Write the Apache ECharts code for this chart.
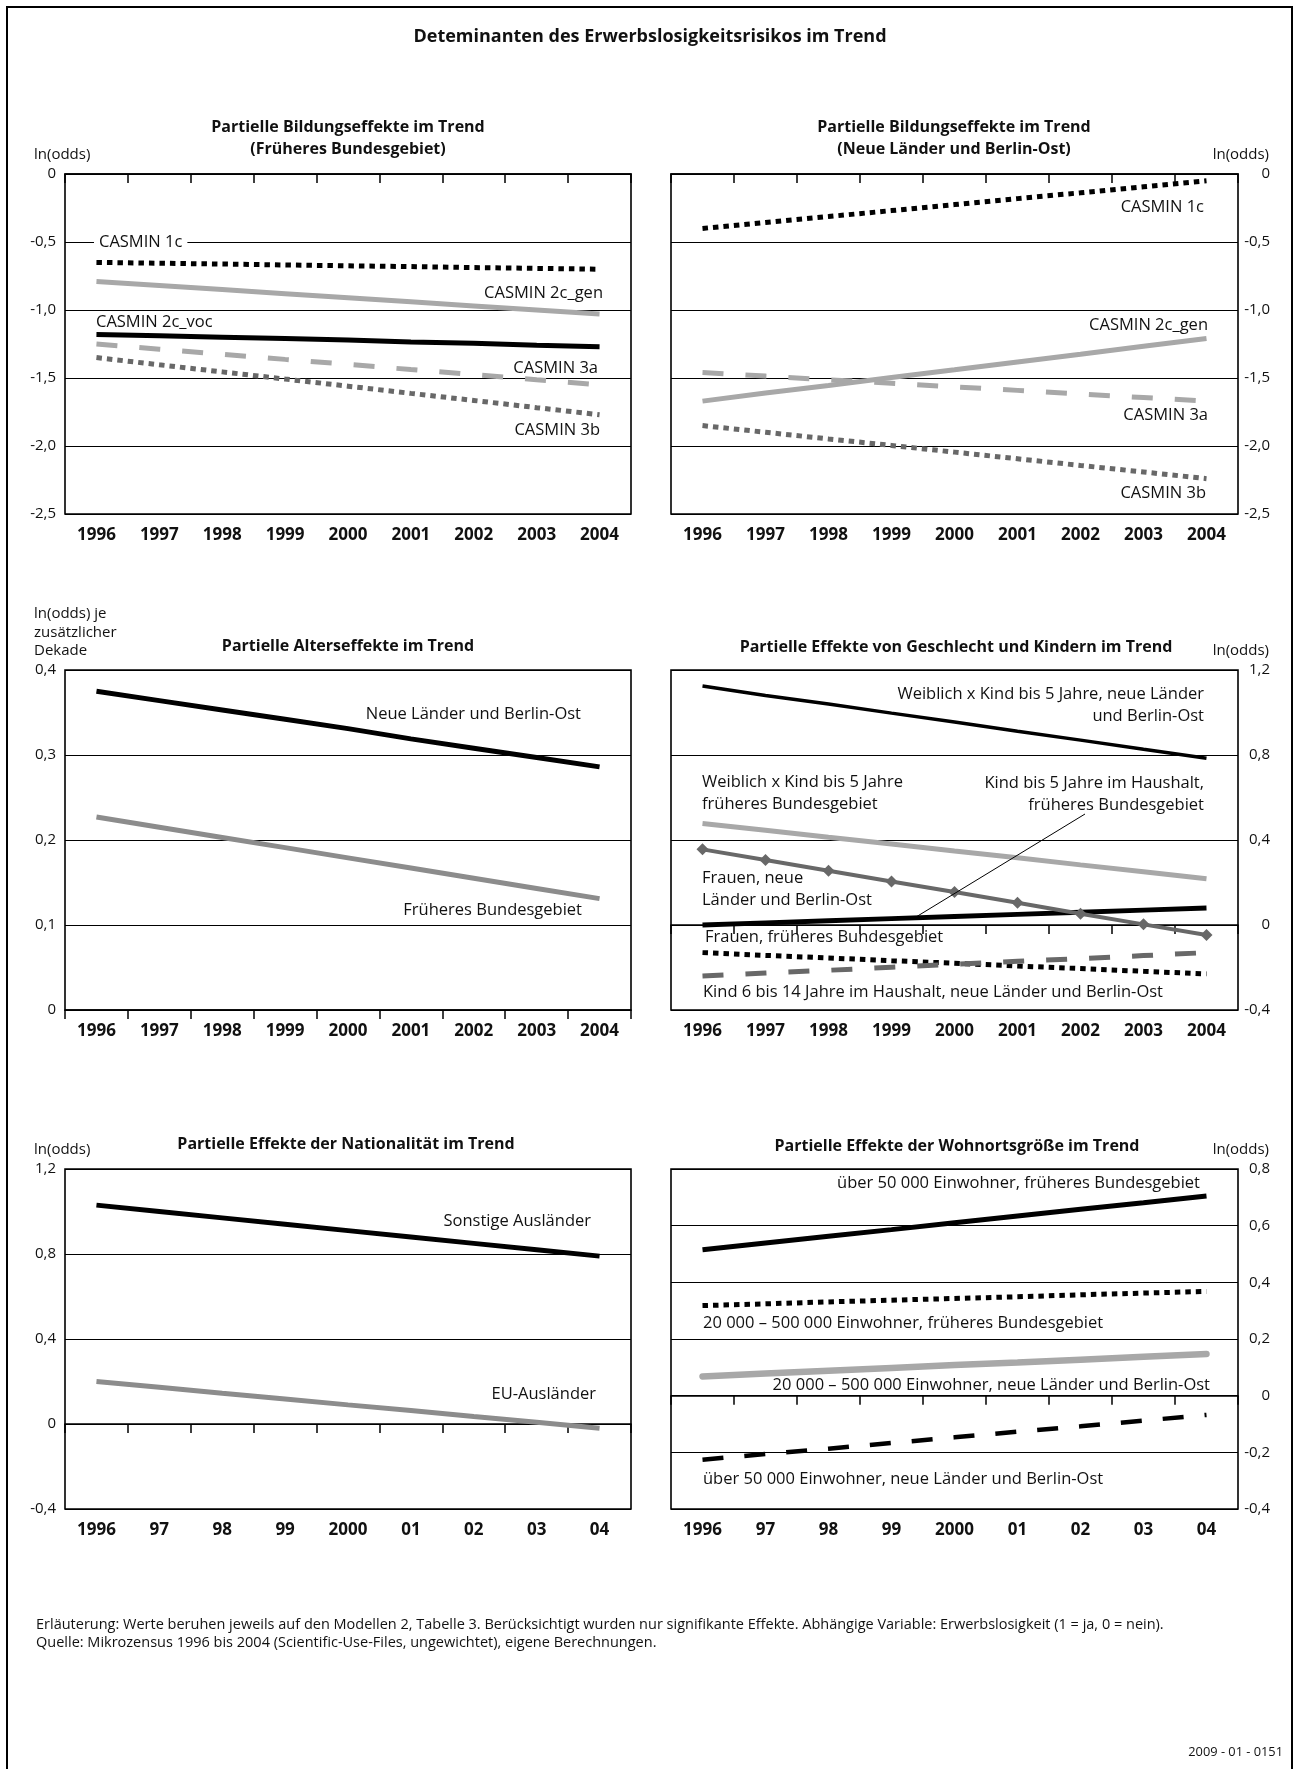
<!DOCTYPE html>
<html>
<head>
<meta charset="utf-8">
<script src="https://cdn.jsdelivr.net/npm/echarts@6/dist/echarts.min.js"></script>
<style>
  html, body { margin: 0; padding: 0; background: #fff; }
  #chart { width: 1297px; height: 1769px; }
</style>
</head>
<body>
<div id="chart"></div>
<script>
// categories
var yearsLong = ['1996', '1997', '1998', '1999', '2000', '2001', '2002', '2003', '2004']
var yearsShort = ['1996', '97', '98', '99', '2000', '01', '02', '03', '04']

// Bildungseffekte, früheres Bundesgebiet
var casmin1cWest = [-0.65, -0.656, -0.662, -0.669, -0.675, -0.681, -0.688, -0.694, -0.70]
var casmin2cGenWest = [-0.79, -0.82, -0.85, -0.88, -0.91, -0.94, -0.97, -1.00, -1.03]
var casmin2cVocWest = [-1.18, -1.19, -1.20, -1.21, -1.22, -1.235, -1.245, -1.26, -1.27]
var casmin3aWest = [-1.25, -1.288, -1.325, -1.363, -1.40, -1.438, -1.475, -1.513, -1.55]
var casmin3bWest = [-1.35, -1.403, -1.455, -1.508, -1.56, -1.613, -1.665, -1.718, -1.77]

// Bildungseffekte, neue Länder und Berlin-Ost
var casmin1cEast = [-0.40, -0.356, -0.313, -0.269, -0.225, -0.181, -0.138, -0.094, -0.05]
var casmin2cGenEast = [-1.67, -1.61, -1.555, -1.497, -1.44, -1.382, -1.325, -1.267, -1.21]
var casmin3aEast = [-1.46, -1.486, -1.513, -1.539, -1.565, -1.591, -1.618, -1.644, -1.67]
var casmin3bEast = [-1.85, -1.899, -1.948, -1.996, -2.045, -2.094, -2.143, -2.191, -2.24]

// Alterseffekte
var ageEast = [0.375, 0.364, 0.353, 0.342, 0.331, 0.319, 0.308, 0.297, 0.286]
var ageWest = [0.227, 0.215, 0.203, 0.191, 0.179, 0.167, 0.155, 0.143, 0.131]

// Geschlecht und Kinder
var femKidEast = [1.125, 1.08, 1.04, 0.997, 0.955, 0.912, 0.87, 0.827, 0.785]
var femKidWest = [0.478, 0.446, 0.413, 0.381, 0.348, 0.316, 0.283, 0.251, 0.218]
var womenEast = [0.356, 0.306, 0.255, 0.205, 0.155, 0.105, 0.053, 0.003, -0.047]
var kidWest = [0.0, 0.01, 0.02, 0.03, 0.04, 0.05, 0.06, 0.07, 0.08]
var womenWest = [-0.13, -0.143, -0.155, -0.168, -0.18, -0.193, -0.205, -0.218, -0.23]
var kid614East = [-0.24, -0.226, -0.213, -0.199, -0.185, -0.171, -0.158, -0.144, -0.13]

// Nationalität
var otherForeign = [1.03, 1.00, 0.97, 0.94, 0.91, 0.88, 0.85, 0.82, 0.79]
var euForeign = [0.20, 0.173, 0.145, 0.118, 0.09, 0.063, 0.035, 0.008, -0.02]

// Wohnortsgröße
var bigTownWest = [0.515, 0.539, 0.563, 0.586, 0.61, 0.634, 0.658, 0.681, 0.705]
var midTownWest = [0.318, 0.324, 0.331, 0.337, 0.343, 0.349, 0.356, 0.362, 0.368]
var midTownEast = [0.068, 0.078, 0.088, 0.098, 0.108, 0.117, 0.127, 0.137, 0.147]
var bigTownEast = [-0.226, -0.206, -0.187, -0.167, -0.147, -0.127, -0.108, -0.088, -0.068]

// y axis ranges per panel: [min, max, interval]
var yRanges = [
	[-2.5, 0, 0.5],
	[-2.5, 0, 0.5],
	[0, 0.4, 0.1],
	[-0.4, 1.2, 0.4],
	[-0.4, 1.2, 0.4],
	[-0.4, 0.8, 0.2],
]

const FONT = 'Open Sans'
const BLACK = '#000'
const LIGHT = '#a8a8a8'
const MID = '#8c8c8c'
const DARK = '#686868'

// panel boxes in px
const panels = [
	{ left: 65, top: 174, width: 566, side: 'left' },
	{ left: 671, top: 174, width: 567, side: 'right' },
	{ left: 65, top: 670, width: 566, side: 'left' },
	{ left: 671, top: 670, width: 567, side: 'right' },
	{ left: 65, top: 1169, width: 566, side: 'left' },
	{ left: 671, top: 1169, width: 567, side: 'right' },
]

function fmt(v) {
	if (Math.abs(v) < 1e-9) return '0'
	return v.toFixed(1).replace('.', ',')
}

function line(idx, data, color, width, dash, extra) {
	return Object.assign(
		{
			type: 'line',
			xAxisIndex: idx,
			yAxisIndex: idx,
			data: data,
			symbol: 'none',
			silent: true,
			animation: false,
			lineStyle: {
				color: color,
				width: width,
				type: dash || 'solid',
				cap: 'butt',
			},
		},
		extra || {}
	)
}

function text(x, y, str, align, opts) {
	return {
		type: 'text',
		x: x,
		y: y,
		z: 100,
		style: Object.assign(
			{
				text: str,
				fill: '#111',
				fontFamily: FONT,
				fontSize: 16.5,
				textAlign: align || 'left',
				textVerticalAlign: 'middle',
			},
			opts || {}
		),
	}
}

const grids = panels.map((p) => ({
	left: p.left,
	top: p.top,
	width: p.width,
	height: 340,
	show: true,
	borderColor: BLACK,
	borderWidth: 1.6,
}))

const xAxes = panels.map((p, i) => ({
	type: 'category',
	gridIndex: i,
	data: i < 4 ? yearsLong : yearsShort,
	boundaryGap: true,
	axisLine: { lineStyle: { color: BLACK, width: 1.6 } },
	axisTick: { show: true, interval: 0, length: 9, lineStyle: { color: BLACK, width: 1.5 } },
	axisLabel: {
		interval: 0,
		margin: 13,
		color: '#111',
		fontFamily: FONT,
		fontWeight: 'bold',
		fontSize: 17,
	},
	splitLine: { show: false },
}))

const yAxes = panels.map((p, i) => ({
	type: 'value',
	gridIndex: i,
	position: p.side,
	min: yRanges[i][0],
	max: yRanges[i][1],
	interval: yRanges[i][2],
	axisLine: { show: false },
	axisTick: { show: false },
	splitLine: { lineStyle: { color: BLACK, width: 1.2 } },
	axisLabel: {
		formatter: fmt,
		color: '#111',
		fontFamily: FONT,
		fontSize: 15,
		align: 'right',
		margin: p.side === 'left' ? 9 : 32,
	},
}))

const series = [
	// panel 1
	line(0, casmin2cGenWest, LIGHT, 5),
	line(0, casmin3aWest, LIGHT, 5, [21, 22]),
	line(0, casmin2cVocWest, BLACK, 5),
	line(0, casmin3bWest, DARK, 5, [5.5, 5]),
	line(0, casmin1cWest, BLACK, 5, [5.5, 5]),
	// panel 2
	line(1, casmin2cGenEast, LIGHT, 5),
	line(1, casmin3aEast, LIGHT, 5, [21, 22]),
	line(1, casmin3bEast, DARK, 5, [5.5, 5]),
	line(1, casmin1cEast, BLACK, 5, [5.5, 5]),
	// panel 3
	line(2, ageEast, BLACK, 5),
	line(2, ageWest, MID, 5),
	// panel 4
	line(3, femKidEast, BLACK, 3.5),
	line(3, femKidWest, LIGHT, 5),
	line(3, kidWest, BLACK, 5),
	line(3, womenEast, DARK, 4, null, {
		symbol: 'diamond',
		symbolSize: 12,
		showSymbol: true,
		itemStyle: { color: DARK },
	}),
	line(3, womenWest, BLACK, 5, [5.5, 5]),
	line(3, kid614East, DARK, 5, [21, 22]),
	// panel 5
	line(4, otherForeign, BLACK, 5),
	line(4, euForeign, MID, 5),
	// panel 6
	line(5, bigTownWest, BLACK, 5),
	line(5, midTownWest, BLACK, 5, [5.5, 5]),
	line(5, midTownEast, LIGHT, 6.5, null, { lineStyle: { color: LIGHT, width: 6.5, cap: 'round' } }),
	line(5, bigTownEast, BLACK, 4.5, [21, 21]),
]

const bold = { fontWeight: 'bold', fontSize: 16 }
const small = { fontSize: 15 }
const note = { fontSize: 14.5 }

const graphics = [
	// outer frame
	{
		type: 'rect',
		z: 100,
		shape: { x: 7, y: 7, width: 1285, height: 1800 },
		style: { fill: 'none', stroke: BLACK, lineWidth: 2 },
	},
	text(650, 37, 'Deteminanten des Erwerbslosigkeitsrisikos im Trend', 'center', { fontWeight: 'bold', fontSize: 18 }),

	// panel titles
	text(348, 127, 'Partielle Bildungseffekte im Trend', 'center', bold),
	text(348, 149, '(Früheres Bundesgebiet)', 'center', bold),
	text(954, 127, 'Partielle Bildungseffekte im Trend', 'center', bold),
	text(954, 149, '(Neue Länder und Berlin-Ost)', 'center', bold),
	text(348, 646, 'Partielle Alterseffekte im Trend', 'center', bold),
	text(956, 647, 'Partielle Effekte von Geschlecht und Kindern im Trend', 'center', bold),
	text(346, 1144, 'Partielle Effekte der Nationalität im Trend', 'center', bold),
	text(957, 1146, 'Partielle Effekte der Wohnortsgröße im Trend', 'center', bold),

	// axis names
	text(34, 155, 'ln(odds)', 'left', small),
	text(1269, 155, 'ln(odds)', 'right', small),
	text(34, 614, 'ln(odds) je', 'left', small),
	text(34, 633, 'zusätzlicher', 'left', small),
	text(34, 651, 'Dekade', 'left', small),
	text(1269, 651, 'ln(odds)', 'right', small),
	text(34, 1150, 'ln(odds)', 'left', small),
	text(1269, 1150, 'ln(odds)', 'right', small),

	// panel 1 labels
	text(94, 242, 'CASMIN 1c', 'left', { backgroundColor: '#fff', padding: [0, 5] }),
	text(603, 293, 'CASMIN 2c_gen', 'right'),
	text(96, 322, 'CASMIN 2c_voc', 'left'),
	text(598, 368, 'CASMIN 3a', 'right'),
	text(600, 430, 'CASMIN 3b', 'right'),

	// panel 2 labels
	text(1204, 207, 'CASMIN 1c', 'right'),
	text(1208, 325, 'CASMIN 2c_gen', 'right'),
	text(1208, 415, 'CASMIN 3a', 'right'),
	text(1206, 493, 'CASMIN 3b', 'right'),

	// panel 3 labels
	text(581, 714, 'Neue Länder und Berlin-Ost', 'right'),
	text(582, 910, 'Früheres Bundesgebiet', 'right'),

	// panel 4 labels
	text(1204, 694, 'Weiblich x Kind bis 5 Jahre, neue Länder', 'right'),
	text(1204, 716, 'und Berlin-Ost', 'right'),
	text(702, 782, 'Weiblich x Kind bis 5 Jahre', 'left'),
	text(702, 804, 'früheres Bundesgebiet', 'left'),
	text(1204, 783, 'Kind bis 5 Jahre im Haushalt,', 'right'),
	text(1204, 805, 'früheres Bundesgebiet', 'right'),
	text(702, 878, 'Frauen, neue', 'left'),
	text(702, 900, 'Länder und Berlin-Ost', 'left'),
	text(705, 937, 'Frauen, früheres Bundesgebiet', 'left'),
	text(703, 992, 'Kind 6 bis 14 Jahre im Haushalt, neue Länder und Berlin-Ost', 'left'),
	{
		type: 'line',
		z: 100,
		shape: { x1: 916, y1: 917, x2: 1085, y2: 814 },
		style: { stroke: BLACK, lineWidth: 1 },
	},

	// panel 5 labels
	text(591, 1221, 'Sonstige Ausländer', 'right'),
	text(596, 1394, 'EU-Ausländer', 'right'),

	// panel 6 labels
	text(1200, 1183, 'über 50 000 Einwohner, früheres Bundesgebiet', 'right'),
	text(703, 1323, '20 000 – 500 000 Einwohner, früheres Bundesgebiet', 'left'),
	text(1210, 1385, '20 000 – 500 000 Einwohner, neue Länder und Berlin-Ost', 'right'),
	text(703, 1479, 'über 50 000 Einwohner, neue Länder und Berlin-Ost', 'left'),

	// footnotes
	text(36, 1625, 'Erläuterung: Werte beruhen jeweils auf den Modellen 2, Tabelle 3. Berücksichtigt wurden nur signifikante Effekte. Abhängige Variable: Erwerbslosigkeit (1 = ja, 0 = nein).', 'left', note),
	text(36, 1643, 'Quelle: Mikrozensus 1996 bis 2004 (Scientific-Use-Files, ungewichtet), eigene Berechnungen.', 'left', note),
	text(1283, 1752, '2009 - 01 - 0151', 'right', { fontSize: 12.8 }),
]

var chart = echarts.init(document.getElementById('chart'), null, { renderer: 'canvas' })
chart.setOption({
	backgroundColor: '#fff',
	animation: false,
	grid: grids,
	xAxis: xAxes,
	yAxis: yAxes,
	series: series,
	graphic: graphics,
})
</script>
</body>
</html>
